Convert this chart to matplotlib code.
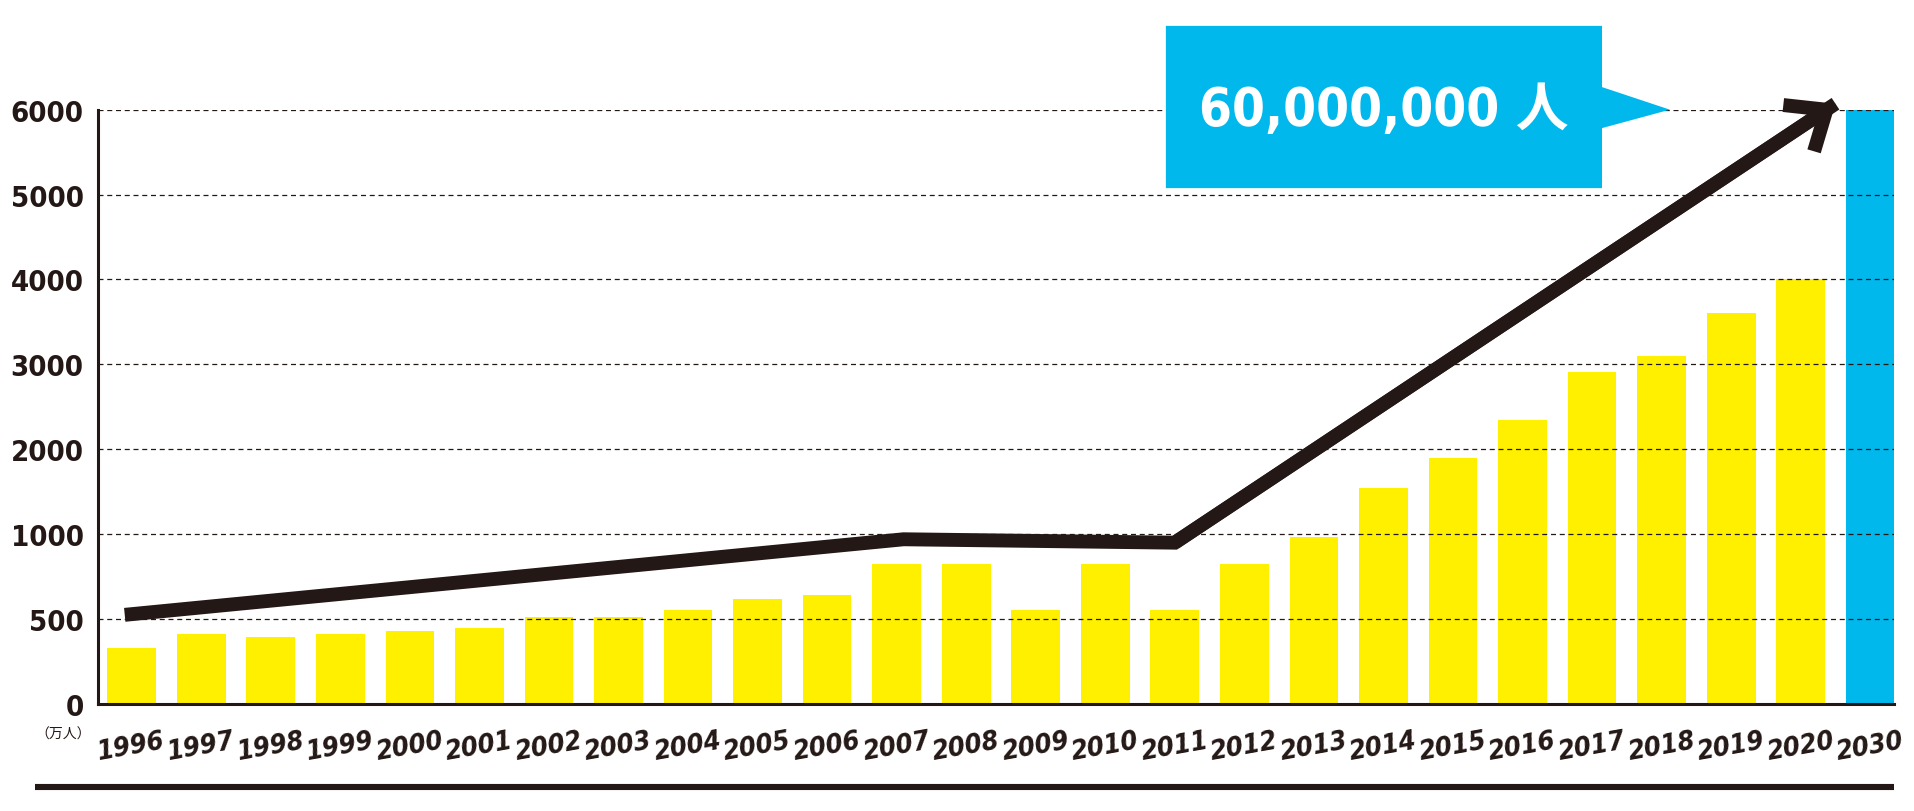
import numpy as np
import matplotlib
matplotlib.use("Agg")
import matplotlib.pyplot as plt
from matplotlib import font_manager
from matplotlib.lines import Line2D
from matplotlib.patches import Polygon

# ─── data (万人) ─────────────────────────────────────────────────────────
years = ["1996", "1997", "1998", "1999", "2000", "2001", "2002", "2003",
         "2004", "2005", "2006", "2007", "2008", "2009", "2010", "2011",
         "2012", "2013", "2014", "2015", "2016", "2017", "2018", "2019",
         "2020", "2030"]
visitors = [330, 410, 395, 410, 430, 445, 510, 510, 555, 620, 640, 825,
            825, 555, 825, 555, 825, 985, 1545, 1900, 2350, 2915, 3100,
            3600, 4000, 6000]
y_ticks = [0, 500, 1000, 2000, 3000, 4000, 5000, 6000]

# trend arrow: position along the year axis (bar index) and value
trend_pos = [-0.1, 11.1, 15.0, 24.5]
trend_val = [525, 970, 950, 6070]

callout_text = "60,000,000 人"
unit_text = "（万人）"

YELLOW = "#FFF000"
BLUE = "#00B8EC"
BLACK = "#231815"


# ─── pick a narrow bold face if there is one ────────────────────────────
def wnum(w):
    if isinstance(w, (int, float)):
        return w
    return font_manager.weight_dict.get(w, 400)


def snum(s):
    if isinstance(s, (int, float)):
        return s
    return font_manager.stretch_dict.get(s, 500)


def pick_narrow():
    fl = font_manager.fontManager.ttflist
    narrow = [f for f in fl if "Narrow" in f.name or "Condensed" in f.name
              or snum(f.stretch) < 500]
    bold = [f for f in narrow if wnum(f.weight) >= 600 and f.style == "normal"]
    if bold:
        bold.sort(key=lambda f: (abs(snum(f.stretch) - 300),
                                 abs(wnum(f.weight) - 750)))
        return bold[0].name, bold[0].stretch, bold[0].weight
    return "Roboto", "normal", "bold"


NARROW, STRETCH, WEIGHT = pick_narrow()
FAMILY = [NARROW, "Noto Sans CJK JP", "DejaVu Sans"]
TXT = dict(family=FAMILY, fontstretch=STRETCH, fontweight=WEIGHT, color=BLACK)


# ─── piecewise y scale: 0-500-1000 then steps of 1000, equal spacing ────
brk_v = np.array([-500.0] + y_ticks + [100000.0])
brk_p = np.array([-1.0] + list(range(len(y_ticks))) + [len(y_ticks) - 1 + 94.0])


def fwd(v):
    return np.interp(v, brk_v, brk_p)


def inv(p):
    return np.interp(p, brk_p, brk_v)


fig = plt.figure(figsize=(19.14, 8.12), dpi=100)
ax = fig.add_axes([0.051, 0.1318, 0.9385, 0.7319])
ax.set_yscale("function", functions=(fwd, inv))

x = np.arange(len(years))
colors = [YELLOW] * (len(years) - 1) + [BLUE]
ax.bar(x, visitors, width=0.70, color=colors, zorder=1)

ax.set_xlim(-0.49, 25.34)
ax.set_ylim(0, 6000)

# grid + spines
ax.set_yticks(y_ticks)
ax.set_yticklabels([str(t) for t in y_ticks], fontsize=21, **TXT)
ax.yaxis.grid(True, linestyle=(0, (4, 3)), linewidth=0.9, color=BLACK)
ax.tick_params(axis="y", length=0, pad=10)
for side in ("top", "right"):
    ax.spines[side].set_visible(False)
for side in ("left", "bottom"):
    ax.spines[side].set_linewidth(2.2)
    ax.spines[side].set_color(BLACK)

ax.set_xticks(x)
ax.set_xticklabels(years, fontsize=19.5, fontstyle="italic", rotation=10, **TXT)
ax.tick_params(axis="x", length=0, pad=17)

# trend line + arrow head
ax.plot(trend_pos, trend_val, color=BLACK, lw=10, solid_joinstyle="miter",
        solid_capstyle="butt", zorder=3, clip_on=False)
ax.annotate("", xy=(trend_pos[-1], trend_val[-1]),
            xytext=(trend_pos[-2], trend_val[-2]),
            arrowprops=dict(arrowstyle="->,head_length=2.4,head_width=2.0",
                            color=BLACK, lw=10, shrinkA=0, shrinkB=0,
                            mutation_scale=10, joinstyle="miter",
                            capstyle="butt"),
            annotation_clip=False, zorder=3)

# callout box
box = Polygon([(0.5947, 1.141), (0.8375, 1.141), (0.8375, 1.038),
               (0.8753, 1.0), (0.8375, 0.969), (0.8375, 0.868),
               (0.5947, 0.868)], closed=True, transform=ax.transAxes,
              facecolor=BLUE, edgecolor="none", clip_on=False, zorder=4)
ax.add_patch(box)
ax.text(0.716, 1.0, callout_text, transform=ax.transAxes, ha="center",
        va="center", fontsize=38, zorder=5,
        **{**TXT, "color": "white"})

fig.text(0.033, 0.0948, unit_text, ha="center", va="center",
         family=["Noto Sans CJK JP", "DejaVu Sans"], fontsize=10, color=BLACK)

fig.add_artist(Line2D([35 / 1914, 1894 / 1914], [1 - 788 / 812] * 2,
                      lw=4.4, color=BLACK, solid_capstyle="butt"))

fig.savefig("out.png", dpi=100, facecolor="white")
